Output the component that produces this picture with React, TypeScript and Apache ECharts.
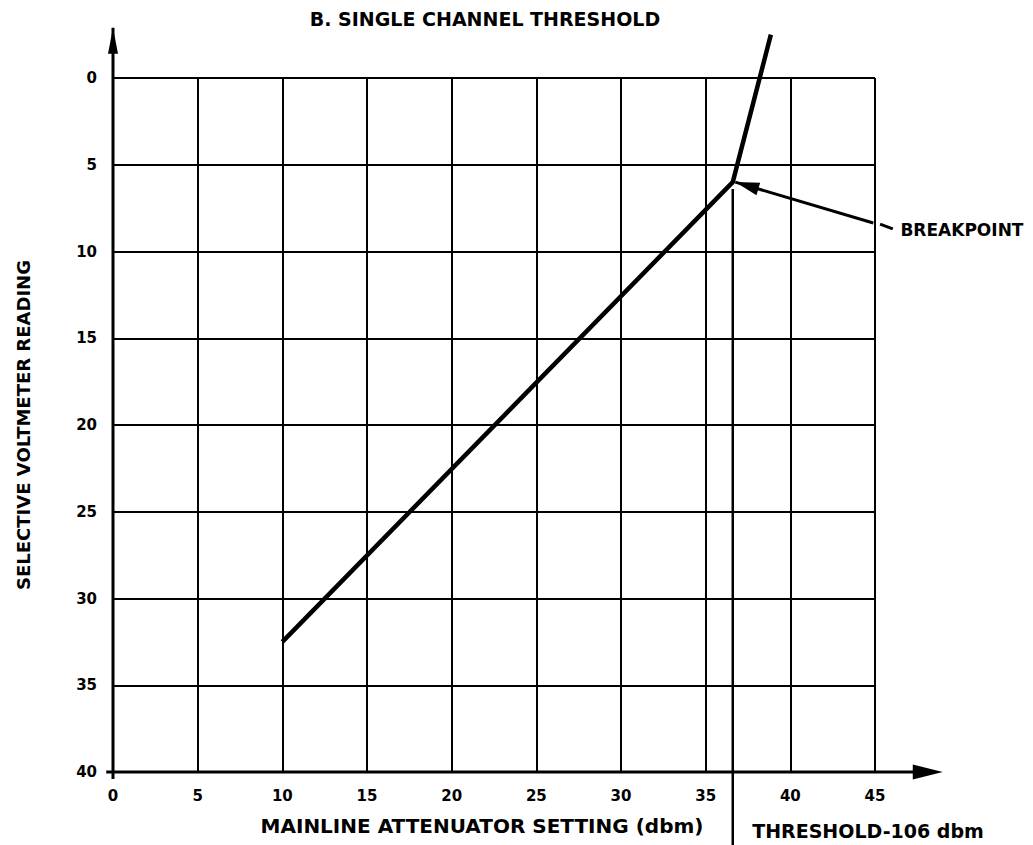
import React, { useEffect, useRef } from "react";
import * as echarts from "echarts";

// ---- data ----
const xTickValues = [0, 5, 10, 15, 20, 25, 30, 35, 40, 45];
const yTickValues = [0, 5, 10, 15, 20, 25, 30, 35, 40];
const curveX = [10, 36.6, 38.85];
const curveY = [32.5, 6.0, -2.5];
const thresholdX = 36.6;
const thresholdY = [6.4, 44.5];
const xAxisArrowX = [-0.4, 49];
const yAxisArrowY = [40.4, -2.9];
const breakpointPointer = [
  [44.9, 8.36],
  [36.75, 6.0],
];
const breakpointDash = [
  [45.3, 8.42],
  [46.05, 8.7],
];
const breakpointLabelAt = [46.5, 8.76];

const titleText = "B. SINGLE CHANNEL THRESHOLD";
const yName = "SELECTIVE VOLTMETER READING";
const xName = "MAINLINE ATTENUATOR SETTING (dbm)";
const thresholdText = "THRESHOLD-106 dbm";
const breakpointText = "BREAKPOINT";

const FONT = "DejaVu Sans";

export default function App() {
  const ref = useRef<HTMLDivElement>(null);
  useEffect(() => {
    document.body.style.margin = "0";
    if (!ref.current) return;
    const chart = echarts.init(ref.current, undefined, { renderer: "svg" });
    const black = "#000";
    const lineSeries = (data: number[][], width: number) => ({
      type: "line",
      data,
      clip: false,
      silent: true,
      showSymbol: false,
      symbol: "none",
      lineStyle: { color: black, width, cap: "butt" },
      itemStyle: { color: black },
      z: 5,
    });
    const axisLabel = {
      color: black,
      fontWeight: "bold",
      fontSize: 15,
      fontFamily: FONT,
      margin: 16,
    };
    chart.setOption({
      animation: false,
      grid: { left: 113, right: 158, top: 78, bottom: 73 },
      xAxis: {
        type: "value",
        min: 0,
        max: 45,
        interval: 5,
        axisLine: { show: false, onZero: false },
        axisTick: { show: false },
        splitLine: { show: true, lineStyle: { color: black, width: 2 } },
        axisLabel: {
          ...axisLabel,
          formatter: (v: number) => (xTickValues.includes(v) ? String(v) : ""),
        },
      },
      yAxis: {
        type: "value",
        inverse: true,
        min: 0,
        max: 40,
        interval: 5,
        axisLine: { show: false, onZero: false },
        axisTick: { show: false },
        splitLine: { show: true, lineStyle: { color: black, width: 2 } },
        axisLabel: {
          ...axisLabel,
          formatter: (v: number) => (yTickValues.includes(v) ? String(v) : ""),
        },
      },
      series: [
        lineSeries(curveX.map((x, i) => [x, curveY[i]]), 4.5),
        lineSeries(thresholdY.map((y) => [thresholdX, y]), 2.5),
        lineSeries(yAxisArrowY.map((y) => [0, y]), 3),
        lineSeries(breakpointPointer, 3),
      ],
    });

    const px = (p: number[]) =>
      chart.convertToPixel({ gridIndex: 0 }, p) as unknown as number[];
    const head = (a: number[], b: number[], len: number, hw: number) => {
      const A = px(a);
      const B = px(b);
      const dx = B[0] - A[0];
      const dy = B[1] - A[1];
      const L = Math.hypot(dx, dy);
      const ux = dx / L;
      const uy = dy / L;
      const bx = B[0] - ux * len;
      const by = B[1] - uy * len;
      return [
        [B[0], B[1]],
        [bx - uy * hw, by + ux * hw],
        [bx + uy * hw, by - ux * hw],
      ];
    };
    const poly = (points: number[][]) => ({
      type: "polygon",
      silent: true,
      z: 10,
      shape: { points },
      style: { fill: black },
    });
    const seg = (a: number[], b: number[], width: number) => {
      const A = px(a);
      const B = px(b);
      return {
        type: "line",
        silent: true,
        z: 10,
        shape: { x1: A[0], y1: A[1], x2: B[0], y2: B[1] },
        style: { stroke: black, lineWidth: width },
      };
    };
    const text = (
      t: string,
      x: number,
      y: number,
      size: number,
      align: string,
      rotation = 0
    ) => ({
      type: "text",
      x,
      y,
      rotation,
      silent: true,
      z: 10,
      style: {
        text: t,
        fill: black,
        fontSize: size,
        fontWeight: "bold",
        fontFamily: FONT,
        align,
        verticalAlign: "middle",
        textAlign: align,
        textVerticalAlign: "middle",
      },
    });
    const bpText = px(breakpointLabelAt);
    chart.setOption({
      graphic: [
        seg([xAxisArrowX[0], 40], [xAxisArrowX[1] - 1, 40], 3),
        seg(breakpointDash[0], breakpointDash[1], 3),
        poly(head([0, 40], [xAxisArrowX[1], 40], 30, 7.5)),
        poly(head([0, 40], [0, yAxisArrowY[1]], 26, 5)),
        poly(head(breakpointPointer[0], breakpointPointer[1], 24, 6.5)),
        text(titleText, 485, 19, 19, "center"),
        text(yName, 23, 425, 18, "center", Math.PI / 2),
        text(xName, 482, 826, 20, "center"),
        text(thresholdText, 868, 831, 19, "center"),
        text(breakpointText, bpText[0], bpText[1], 17, "left"),
      ],
    });
    return () => chart.dispose();
  }, []);
  return <div ref={ref} style={{ width: 1033, height: 845 }} />;
}
